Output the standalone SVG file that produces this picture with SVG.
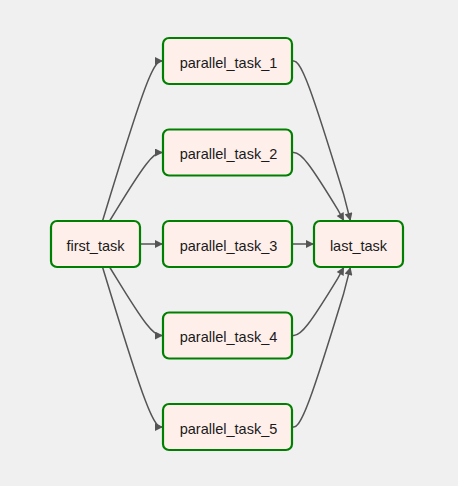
<svg xmlns="http://www.w3.org/2000/svg" width="458" height="486" viewBox="0 0 458 486">
<style>
.node rect{fill:#ffefeb;stroke:#008000;stroke-width:2.2}
.node text{font-family:"Liberation Sans",Arial,sans-serif;font-size:14.5px;fill:#1a1a1a;text-anchor:middle}
.edges path{fill:none;stroke:#555;stroke-width:1.5}
</style>
<defs>
<marker id="arr" viewBox="0 0 10 10" refX="10" refY="5" markerUnits="userSpaceOnUse" markerWidth="9" markerHeight="8" orient="auto">
<path d="M0,0 L10,5 L0,10 z" fill="#555"/>
</marker>
</defs>
<rect width="458" height="486" fill="#f0f0f0"/>
<g class="edges">
<path marker-end="url(#arr)" d="M102.5,221 L110.67,194.33 C118.83,167.67 135.17,114.33 145.25,87.67 C155.33,61 159.17,61 161.08,61 L163,61"/>
<path marker-end="url(#arr)" d="M109.58,221 L116.57,209.58 C123.55,198.17 137.53,175.33 146.43,163.92 C155.33,152.5 159.17,152.5 161.08,152.5 L163,152.5"/>
<path marker-end="url(#arr)" d="M140,244 L163,244"/>
<path marker-end="url(#arr)" d="M109.58,267 L116.57,278.42 C123.55,289.83 137.53,312.67 146.43,324.08 C155.33,335.5 159.17,335.5 161.08,335.5 L163,335.5"/>
<path marker-end="url(#arr)" d="M102.5,267 L110.67,293.67 C118.83,320.33 135.17,373.67 145.25,400.33 C155.33,427 159.17,427 161.08,427 L163,427"/>
<path marker-end="url(#arr)" d="M292,61 L293.83,61 C295.67,61 299.33,61 309.29,87.67 C319.25,114.33 335.49,167.67 343.62,194.33 L350.5,221"/>
<path marker-end="url(#arr)" d="M292,152.5 L293.83,152.5 C295.67,152.5 299.33,152.5 308.12,163.92 C316.91,175.33 330.83,198.17 337.78,209.58 L344,221"/>
<path marker-end="url(#arr)" d="M292,244 L314,244"/>
<path marker-end="url(#arr)" d="M292,335.5 L293.83,335.5 C295.67,335.5 299.33,335.5 308.12,324.08 C316.91,312.67 330.83,289.83 337.78,278.42 L344,267"/>
<path marker-end="url(#arr)" d="M292,427 L293.83,427 C295.67,427 299.33,427 309.29,400.33 C319.25,373.67 335.49,320.33 343.62,293.67 L350.5,267"/>
</g>
<g id="first_task" class="node"><rect x="51" y="221" width="89" height="46" rx="6"/><text x="95.5" y="250.5">first_task</text></g>
<g id="parallel_task_1" class="node"><rect x="163" y="38" width="129" height="46" rx="6"/><text x="228.5" y="67.5">parallel_task_1</text></g>
<g id="parallel_task_2" class="node"><rect x="163" y="129.5" width="129" height="46" rx="6"/><text x="228.5" y="159">parallel_task_2</text></g>
<g id="parallel_task_3" class="node"><rect x="163" y="221" width="129" height="46" rx="6"/><text x="228.5" y="250.5">parallel_task_3</text></g>
<g id="parallel_task_4" class="node"><rect x="163" y="312.5" width="129" height="46" rx="6"/><text x="228.5" y="342">parallel_task_4</text></g>
<g id="parallel_task_5" class="node"><rect x="163" y="404" width="129" height="46" rx="6"/><text x="228.5" y="433.5">parallel_task_5</text></g>
<g id="last_task" class="node"><rect x="314" y="221" width="89" height="46" rx="6"/><text x="358.5" y="250.5">last_task</text></g>
</svg>
